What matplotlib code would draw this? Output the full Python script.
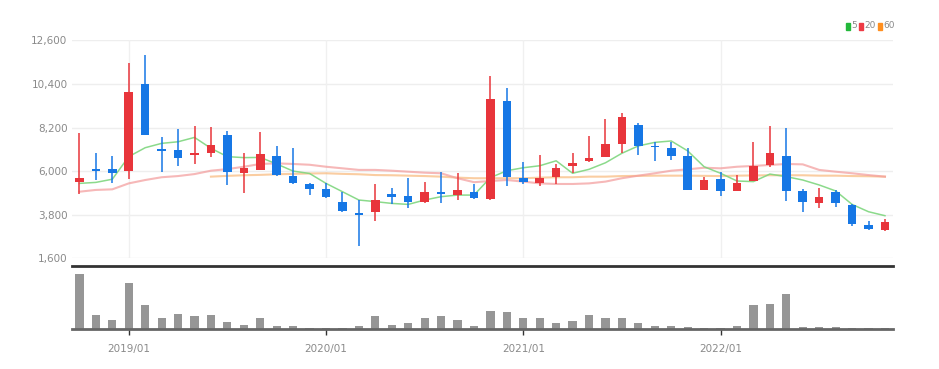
import numpy as np
import matplotlib.pyplot as plt

# monthly candles, 2018/10 .. 2022/11
months = ["2018/10", "2018/11", "2018/12",
          "2019/01", "2019/02", "2019/03", "2019/04", "2019/05", "2019/06",
          "2019/07", "2019/08", "2019/09", "2019/10", "2019/11", "2019/12",
          "2020/01", "2020/02", "2020/03", "2020/04", "2020/05", "2020/06",
          "2020/07", "2020/08", "2020/09", "2020/10", "2020/11", "2020/12",
          "2021/01", "2021/02", "2021/03", "2021/04", "2021/05", "2021/06",
          "2021/07", "2021/08", "2021/09", "2021/10", "2021/11", "2021/12",
          "2022/01", "2022/02", "2022/03", "2022/04", "2022/05", "2022/06",
          "2022/07", "2022/08", "2022/09", "2022/10", "2022/11"]

opens = [5450, 6090, 6090, 6020, 10380, 7100, 7070, 6810, 6900, 7820, 5890, 6060,
         6760, 5750, 5330, 5080, 4460, 3870, 3920, 4840, 4760, 4430, 4960, 4790,
         4960, 4590, 9550, 5670, 5420, 5720, 6270, 6510, 6730, 7370, 8330, 7280,
         7180, 6760, 5050, 5590, 5010, 5500, 6310, 6760, 5010, 4410, 4960, 4290,
         3280, 3030]
closes = [5650, 6020, 5890, 10000, 7820, 7000, 6680, 6930, 7320, 5970, 6170, 6880,
          5800, 5390, 5100, 4710, 3990, 3770, 4540, 4710, 4430, 4960, 4840, 5050,
          4630, 9640, 5690, 5470, 5640, 6170, 6420, 6640, 7350, 8750, 7280, 7200,
          6780, 5050, 5550, 5010, 5420, 6270, 6900, 5010, 4460, 4710, 4370, 3330,
          3060, 3450]
highs = [7940, 6930, 6760, 11440, 11860, 7740, 8110, 8280, 8240, 8020, 6930, 7960,
         7270, 7150, 5420, 5380, 4960, 4540, 5330, 5130, 5640, 5470, 5970, 5920,
         5350, 10800, 10210, 6440, 6810, 6360, 6930, 7770, 8610, 8950, 8410, 7480,
         7480, 7150, 5720, 5970, 5800, 7480, 8280, 8190, 5080, 5130, 5050, 4320,
         3500, 3570]
lows = [4830, 5550, 5380, 5590, 7820, 5970, 6270, 6360, 6730, 5300, 4910, 6060,
        5750, 5350, 4790, 4660, 3950, 2220, 3480, 4320, 4120, 4410, 4410, 4540,
        4590, 4540, 5250, 5350, 5270, 5330, 5890, 6480, 6690, 6900, 6810, 6530,
        6560, 5030, 5050, 4760, 5010, 5480, 6220, 4490, 3950, 4120, 4200, 3250,
        3030, 2980]

ma5 = [5380, 5430, 5590, 6730, 7180, 7400, 7480, 7700, 7150, 6730, 6680, 6690,
       6360, 6000, 5880, 5380, 4960, 4540, 4460, 4370, 4320, 4540, 4710, 4790,
       4790, 5670, 6020, 6170, 6270, 6520, 5890, 6090, 6420, 6900, 7270, 7450,
       7520, 7020, 6220, 5890, 5500, 5470, 5850, 5720, 5550, 5300, 5000, 4320,
       3950, 3750]
ma20 = [4960, 5050, 5080, 5380, 5550, 5690, 5750, 5850, 6020, 6100, 6220, 6360,
        6390, 6360, 6320, 6220, 6140, 6060, 6060, 6020, 5970, 5920, 5890, 5640,
        5440, 5500, 5550, 5470, 5380, 5350, 5350, 5380, 5470, 5640, 5770, 5890,
        6020, 6090, 6170, 6140, 6220, 6260, 6310, 6360, 6340, 6060, 5970, 5890,
        5800, 5720]
ma60 = [None] * 8 + [5720, 5760, 5790, 5810, 5840, 5860, 5880, 5890, 5860, 5840,
                     5800, 5790, 5770, 5750, 5720, 5670, 5640, 5640, 5640, 5640,
                     5670, 5690, 5690, 5720, 5720, 5750, 5760, 5770, 5770, 5770,
                     5760, 5750, 5770, 5780, 5790, 5790, 5790, 5770, 5770, 5750,
                     5740, 5720]

volumes = [2750, 715, 450, 2300, 1215, 565, 750, 665, 715, 365, 215, 565, 150, 150,
           50, 50, 50, 150, 650, 215, 300, 565, 630, 465, 150, 885, 835, 535, 535,
           300, 400, 715, 535, 565, 315, 150, 150, 100, 50, 50, 150, 1215, 1250,
           1750, 100, 100, 100, 50, 50, 50]

price_ticks = [1600, 3800, 6000, 8200, 10400, 12600]
year_ticks = ["2019/01", "2020/01", "2021/01", "2022/01"]
ma_labels = ["5", "20", "60"]

UP = "#e8353b"
DOWN = "#1677e5"
TXT = "#8a8a8a"
FONT = ["Liberation Sans Narrow", "DejaVu Sans"]

plt.rcParams["font.family"] = FONT

W, H = 939, 369
fig = plt.figure(figsize=(W / 100, H / 100), dpi=100)

left, right = 71.7, 893.0
top_p, bot_p = 40.3, 258.3
top_v, bot_v = 266.0, 329.0

ax = fig.add_axes([left / W, 1 - bot_p / H, (right - left) / W, (bot_p - top_p) / H])
axv = fig.add_axes([left / W, 1 - bot_v / H, (right - left) / W, (bot_v - top_v) / H])

x = np.arange(len(months))
o = np.array(opens)
c = np.array(closes)
colors = [UP if cc >= oo else DOWN for oo, cc in zip(o, c)]
body_w = 0.52

# grid
for t in price_ticks:
    ax.axhline(t, color="#eeeeee", lw=1, zorder=0)
tick_idx = [months.index(m) for m in year_ticks]
for i in tick_idx:
    ax.axvline(i, color="#f0f0f0", lw=1, zorder=0)

# moving averages
ma60_arr = np.array([np.nan if v is None else v for v in ma60], dtype=float)
ax.plot(x, ma60_arr, color="#f8b87a", lw=1.5, alpha=0.7, zorder=1)
ax.plot(x, ma20, color="#f39a9a", lw=1.5, alpha=0.7, zorder=1)
ax.plot(x, ma5, color="#7fd67f", lw=1.1, alpha=0.9, zorder=1)

# candles
ax.vlines(x, lows, highs, colors=colors, lw=1.1, zorder=2)
bottoms = np.minimum(o, c)
heights = np.maximum(np.abs(c - o), 60)
ax.bar(x, heights, bottom=bottoms, width=body_w, color=colors, zorder=3)

ax.set_xlim(-0.47, len(months) - 0.51)
ax.set_ylim(1600, 12600)
ax.set_yticks(price_ticks)
ax.set_yticklabels([f"{t:,}" for t in price_ticks], color=TXT, fontsize=7.5)
ax.tick_params(axis="y", length=0, pad=3)
ax.set_xticks([])
for s in ax.spines.values():
    s.set_visible(False)

# volume
axv.bar(x, volumes, width=0.5, color="#969696", zorder=2)
axv.set_xlim(ax.get_xlim())
axv.set_ylim(0, max(volumes) * 63 / 55)
axv.set_yticks([])
axv.set_xticks(tick_idx)
axv.set_xticklabels(year_ticks, color=TXT, fontsize=7.5)
axv.tick_params(axis="x", length=4, width=1, color="#333333", pad=7)
for s in ["left", "right"]:
    axv.spines[s].set_visible(False)
axv.spines["top"].set_color("#333333")
axv.spines["top"].set_linewidth(2)
axv.spines["bottom"].set_color("#666666")
axv.spines["bottom"].set_linewidth(2)

# legend
leg_cols = ["#22b83a", "#ee3a44", "#ff8f1f"]
leg_x = [846, 859, 878]
for lab, col, lx in zip(ma_labels, leg_cols, leg_x):
    fig.patches.append(plt.Rectangle((lx / W, 1 - 29.5 / H), 3.5 / W, 7 / H,
                                     transform=fig.transFigure, color=col))
    fig.text((lx + 5) / W, 1 - 26 / H, lab, color=TXT, fontsize=6.5, va="center")

fig.savefig("out.png", dpi=100)
